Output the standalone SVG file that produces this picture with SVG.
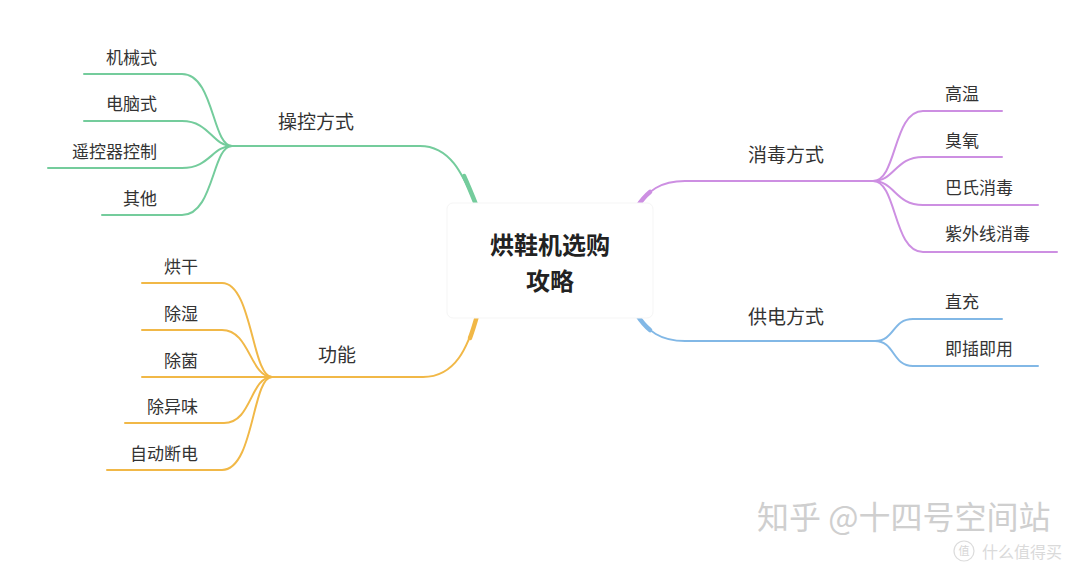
<svg xmlns="http://www.w3.org/2000/svg" width="1080" height="567" viewBox="0 0 1080 567">
<style>
text{font-family:"Noto Sans CJK SC","Noto Sans",sans-serif;fill:#333}
.leaf{font-size:17px}
.br{font-size:19px}
.root{font-size:24px;font-weight:bold;fill:#222}
.c{fill:none;stroke-linecap:round}
.g{stroke:#74cc9c}
.y{stroke:#f1b847}
.p{stroke:#cd8fe2}
.b{stroke:#82b8e6}
.t{stroke-width:2}
.k{stroke-width:4.5}
.wm{fill:#cfcfcf}
</style>
<rect width="1080" height="567" fill="#fff"/>
<g id="connectors">
<path class="c g t" d="M230,146 L420,146 C452,146 464,178 477,207"/>
<path class="c g k" d="M464,176 C469,187 473,197 477,207"/>
<path class="c g t" d="M84,74 L182,74 C214,74 212,146 232,146"/>
<path class="c g t" d="M84,121 L182,121 C210,121 212,146 232,146"/>
<path class="c g t" d="M48,168 L182,168 C210,168 212,146 232,146"/>
<path class="c g t" d="M102,215 L182,215 C214,215 212,146 232,146"/>

<path class="c y t" d="M270,377 L423,377 C456,377 468,346 477,316"/>
<path class="c y k" d="M470,338 C473,330 475,323 477,316"/>
<path class="c y t" d="M142,283 L222,283 C252,283 252,377 272,377"/>
<path class="c y t" d="M142,330 L222,330 C250,330 250,377 272,377"/>
<path class="c y t" d="M142,377 L272,377"/>
<path class="c y t" d="M125,423 L224,423 C252,423 250,377 272,377"/>
<path class="c y t" d="M107,470 L222,470 C254,470 252,377 272,377"/>

<path class="c p t" d="M637,207 C648,191 660,181 685,181 L875,181"/>
<path class="c p k" d="M637,207 C641,201 645,196 650,192"/>
<path class="c p t" d="M873,181 C897,181 893,111 923,111 L1002,111"/>
<path class="c p t" d="M873,181 C895,181 895,157 923,157 L1002,157"/>
<path class="c p t" d="M873,181 C895,181 895,205 923,205 L1038,205"/>
<path class="c p t" d="M873,181 C897,181 893,252 923,252 L1057,252"/>

<path class="c b t" d="M637,315 C648,331 660,341 685,341 L877,341"/>
<path class="c b k" d="M637,315 C641,321 645,326 650,330"/>
<path class="c b t" d="M875,341 C895,341 892,319 913,319 L1002,319"/>
<path class="c b t" d="M875,341 C895,341 892,366 913,366 L1038,366"/>
</g>

<g id="root">
<rect x="447" y="203" width="206" height="115" rx="6" fill="#fff" stroke="#f5f5f5"/>
<text class="root" x="550" y="254" text-anchor="middle">烘鞋机选购</text>
<text class="root" x="550" y="290" text-anchor="middle">攻略</text>
</g>

<g id="n-caokong"><text class="br" x="316" y="129" text-anchor="middle">操控方式</text></g>
<g id="n-jixie"><text class="leaf" x="157" y="64" text-anchor="end">机械式</text></g>
<g id="n-diannao"><text class="leaf" x="157" y="110" text-anchor="end">电脑式</text></g>
<g id="n-yaokong"><text class="leaf" x="157" y="158" text-anchor="end">遥控器控制</text></g>
<g id="n-qita"><text class="leaf" x="157" y="205" text-anchor="end">其他</text></g>

<g id="n-gongneng"><text class="br" x="337" y="362" text-anchor="middle">功能</text></g>
<g id="n-honggan"><text class="leaf" x="198" y="273" text-anchor="end">烘干</text></g>
<g id="n-chushi"><text class="leaf" x="198" y="320" text-anchor="end">除湿</text></g>
<g id="n-chujun"><text class="leaf" x="198" y="367" text-anchor="end">除菌</text></g>
<g id="n-chuyiwei"><text class="leaf" x="198" y="413" text-anchor="end">除异味</text></g>
<g id="n-zidong"><text class="leaf" x="198" y="460" text-anchor="end">自动断电</text></g>

<g id="n-xiaodu"><text class="br" x="786" y="162" text-anchor="middle">消毒方式</text></g>
<g id="n-gaowen"><text class="leaf" x="945" y="100">高温</text></g>
<g id="n-chouyang"><text class="leaf" x="945" y="147">臭氧</text></g>
<g id="n-bashi"><text class="leaf" x="945" y="194">巴氏消毒</text></g>
<g id="n-ziwaixian"><text class="leaf" x="945" y="240">紫外线消毒</text></g>

<g id="n-gongdian"><text class="br" x="786" y="324" text-anchor="middle">供电方式</text></g>
<g id="n-zhichong"><text class="leaf" x="945" y="308">直充</text></g>
<g id="n-jicha"><text class="leaf" x="945" y="355">即插即用</text></g>

<g id="watermark">
<text class="wm" x="757" y="529" font-size="32">知乎 @十四号空间站</text>
<circle cx="964" cy="551" r="10" fill="none" stroke="#dcdcdc" stroke-width="1.2"/>
<text x="964" y="555" font-size="11" text-anchor="middle" style="fill:#d6d6d6">值</text>
<text x="982" y="558" font-size="16" style="fill:#dadada">什么值得买</text>
</g>
</svg>
